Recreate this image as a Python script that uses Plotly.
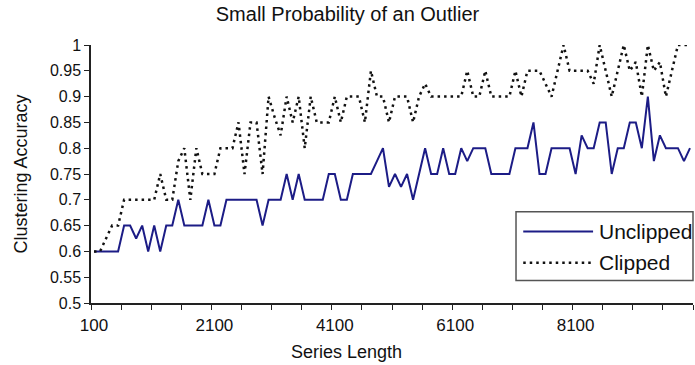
import plotly.graph_objects as go

# Category axis: series length
series_length = list(range(100, 10001, 100))

unclipped = [
    0.6, 0.6, 0.6, 0.6, 0.6,
    0.65, 0.65, 0.625, 0.65, 0.6,
    0.65, 0.6, 0.65, 0.65, 0.7,
    0.65, 0.65, 0.65, 0.65, 0.7,
    0.65, 0.65, 0.7, 0.7, 0.7,
    0.7, 0.7, 0.7, 0.65, 0.7,
    0.7, 0.7, 0.75, 0.7, 0.75,
    0.7, 0.7, 0.7, 0.7, 0.75,
    0.75, 0.7, 0.7, 0.75, 0.75,
    0.75, 0.75, 0.775, 0.8, 0.725,
    0.75, 0.725, 0.75, 0.7, 0.75,
    0.8, 0.75, 0.75, 0.8, 0.75,
    0.75, 0.8, 0.775, 0.8, 0.8,
    0.8, 0.75, 0.75, 0.75, 0.75,
    0.8, 0.8, 0.8, 0.85, 0.75,
    0.75, 0.8, 0.8, 0.8, 0.8,
    0.75, 0.825, 0.8, 0.8, 0.85,
    0.85, 0.75, 0.8, 0.8, 0.85,
    0.85, 0.8, 0.9, 0.775, 0.825,
    0.8, 0.8, 0.8, 0.775, 0.8,
]

clipped = [
    0.6, 0.6, 0.625, 0.65, 0.65,
    0.7, 0.7, 0.7, 0.7, 0.7,
    0.7, 0.75, 0.7, 0.7, 0.775,
    0.8, 0.7, 0.8, 0.75, 0.75,
    0.75, 0.8, 0.8, 0.8, 0.85,
    0.75, 0.85, 0.85, 0.75, 0.9,
    0.86, 0.825, 0.9, 0.85, 0.9,
    0.8, 0.9, 0.85, 0.85, 0.85,
    0.9, 0.85, 0.9, 0.9, 0.9,
    0.85, 0.95, 0.9, 0.9, 0.85,
    0.9, 0.9, 0.9, 0.85, 0.9,
    0.925, 0.9, 0.9, 0.9, 0.9,
    0.9, 0.9, 0.95, 0.9, 0.9,
    0.95, 0.9, 0.9, 0.9, 0.9,
    0.95, 0.9, 0.95, 0.95, 0.95,
    0.925, 0.9, 0.95, 1.0, 0.95,
    0.95, 0.95, 0.95, 0.925, 1.0,
    0.95, 0.9, 0.95, 1.0, 0.95,
    0.967, 0.9, 1.0, 0.95, 0.967,
    0.9, 0.95, 1.0, 1.0, 1.0,
]

x_tick_labels = ["100", "2100", "4100", "6100", "8100"]
y_ticks = [0.5, 0.55, 0.6, 0.65, 0.7, 0.75, 0.8, 0.85, 0.9, 0.95, 1.0]
y_tick_labels = ["0.5", "0.55", "0.6", "0.65", "0.7", "0.75", "0.8", "0.85", "0.9", "0.95", "1"]

FONT = "Liberation Sans, Arial, Helvetica, sans-serif"
BLUE = "#1c1c86"
BLACK = "#111111"
DOTS = "2.5px,4px"

fig = go.Figure()
fig.add_trace(go.Scatter(x=series_length, y=unclipped, mode="lines", name="Unclipped",
                         line=dict(color=BLUE, width=2), showlegend=False))
fig.add_trace(go.Scatter(x=series_length, y=clipped, mode="lines", name="Clipped",
                         line=dict(color=BLACK, width=2.5, dash=DOTS), showlegend=False))

step = series_length[1] - series_length[0]
minor_ticks = [series_length[0] - step / 2 + 5 * step * k for k in range(len(series_length) // 5 + 1)]

fig.update_layout(
    width=695, height=365,
    margin=dict(l=91, r=2, t=45, b=62),
    paper_bgcolor="white", plot_bgcolor="white",
    font=dict(family=FONT, color="#111111", size=17),
    title=dict(text="Small Probability of an Outlier", x=0.5, xref="container", xanchor="center",
               y=1 - 14 / 365, yanchor="middle", font=dict(size=20)),
    xaxis=dict(
        range=[series_length[0] - step / 2, series_length[-1] + step / 2],
        tickmode="array", tickvals=[int(t) for t in x_tick_labels], ticktext=x_tick_labels,
        ticks="outside", ticklen=6, tickcolor="rgba(0,0,0,0)",
        minor=dict(tickmode="array", tickvals=minor_ticks, ticks="outside", ticklen=5,
                   tickcolor="#222", tickwidth=1, showgrid=False),
        showline=True, linecolor="#222", linewidth=1.5, showgrid=False, zeroline=False,
    ),
    yaxis=dict(
        range=[0.5, 1.0], tickmode="array", tickvals=y_ticks, ticktext=y_tick_labels,
        tickfont=dict(size=16),
        ticks="outside", ticklen=5, tickcolor="#222", tickwidth=1,
        showline=True, linecolor="#222", linewidth=1.5, showgrid=False, zeroline=False,
        title=dict(text="Clustering Accuracy", font=dict(size=18), standoff=18),
    ),
)

# x-axis title, centred on the figure as in the original
fig.add_annotation(xref="paper", yref="paper", x=0.425, y=-0.19, text="Series Length",
                   showarrow=False, xanchor="center", yanchor="middle", font=dict(size=18))

# Legend box drawn to mirror the original (long line samples)
fig.add_shape(type="rect", xref="paper", yref="paper", x0=0.706, x1=1.0, y0=0.087, y1=0.354,
              line=dict(color="#555", width=1.5), fillcolor="white", layer="above")
fig.add_shape(type="line", xref="paper", yref="paper", x0=0.718, x1=0.834, y0=0.277, y1=0.277,
              line=dict(color=BLUE, width=2), layer="above")
fig.add_shape(type="line", xref="paper", yref="paper", x0=0.718, x1=0.834, y0=0.156, y1=0.156,
              line=dict(color=BLACK, width=2.5, dash=DOTS), layer="above")
fig.add_annotation(xref="paper", yref="paper", x=0.840, y=0.277, text="Unclipped", showarrow=False,
                   xanchor="left", yanchor="middle", font=dict(size=21))
fig.add_annotation(xref="paper", yref="paper", x=0.840, y=0.156, text="Clipped", showarrow=False,
                   xanchor="left", yanchor="middle", font=dict(size=21))

fig.write_html("out.html")
